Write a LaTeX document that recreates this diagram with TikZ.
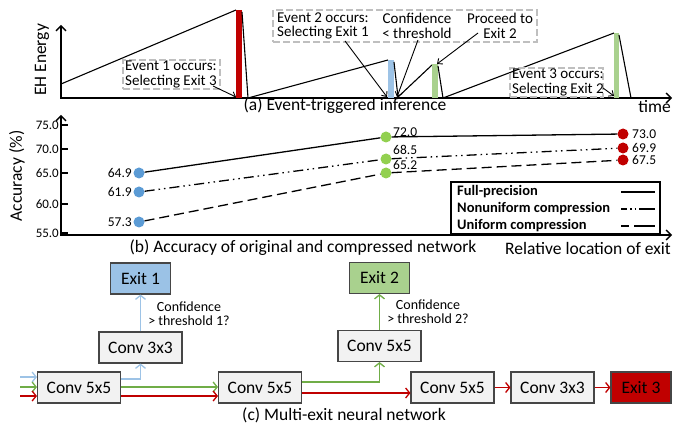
\documentclass[tikz,border=0pt]{standalone}
\usepackage{fontspec}
\setmainfont{Carlito}
\usetikzlibrary{arrows.meta}
\definecolor{barred}{RGB}{192,0,0}
\definecolor{barblue}{RGB}{157,195,230}
\definecolor{bargreen}{RGB}{169,209,142}
\definecolor{dotblue}{RGB}{91,155,213}
\definecolor{dotgreen}{RGB}{146,208,80}
\definecolor{dotred}{RGB}{192,0,0}
\definecolor{linblue}{RGB}{157,195,230}
\definecolor{lingreen}{RGB}{112,173,71}
\definecolor{linred}{RGB}{192,0,0}
\definecolor{boxgray}{RGB}{242,242,242}
\definecolor{boxedge}{RGB}{70,70,70}
\definecolor{dashgray}{RGB}{191,191,191}
\definecolor{exitblue}{RGB}{155,194,230}
\definecolor{exitgreen}{RGB}{169,209,142}
\begin{document}
\begin{tikzpicture}[x=1pt,y=-1pt,
  big/.style={font=\fontsize{17.5}{20}\selectfont, inner sep=0pt},
  ann/.style={font=\fontsize{15}{14.5}\selectfont, inner sep=0pt},
  small/.style={font=\fontsize{14}{14}\selectfont, inner sep=0pt, align=center},
  tick/.style={font=\fontsize{13}{14}\selectfont, inner sep=0pt},
  val/.style={font=\fontsize{13.5}{14}\selectfont, inner sep=0pt},
  legtext/.style={font=\bfseries\fontsize{14.5}{15}\selectfont, inner sep=0pt, anchor=west},
  axisline/.style={line width=1.4pt, {Straight Barb[length=5pt,width=10pt]}-{Straight Barb[length=5pt,width=10pt]}},
  energy/.style={line width=1.1pt},
  dashbox/.style={draw=dashgray, line width=1.4pt, dash pattern=on 7pt off 3pt},
  annarrow/.style={line width=0.9pt, -{Straight Barb[length=4pt,width=7pt]}},
  dotnode/.style={circle, minimum size=11pt, inner sep=0pt},
  netbox/.style={draw=boxedge, line width=1.1pt, fill=boxgray, minimum width=83pt, minimum height=31pt, big},
  exitbox/.style={draw=boxedge, line width=1.1pt, minimum width=60pt, minimum height=31pt, big},
  flow/.style={line width=1.3pt, -{Straight Barb[length=4pt,width=10pt]}},
  solidline/.style={line width=1.3pt},
  ddotline/.style={line width=1.3pt, dash pattern=on 10pt off 4pt on 1.5pt off 4pt on 1.5pt off 4pt},
  dashline/.style={line width=1.3pt, dash pattern=on 10pt off 5pt}
]
\useasboundingbox (0,0) rectangle (673,425);

% ---------------- (a) ----------------
\coordinate (ya) at (61,25);
\coordinate (oa) at (61,98);
\coordinate (xa) at (672,98);
\draw[axisline] (ya) -- (oa) -- (xa);
\node[big, rotate=90] (ehlabel) at (42,60) {EH Energy};
\node[big, anchor=east] (timelabel) at (671,107) {time};
\node[big] (capa) at (345,106) {(a) Event-triggered inference};

\draw[energy] (61,84) -- (236,10);
\fill[barred] (236,10) rectangle (242,98);
\draw[energy] (242,12) -- (248,98) -- (388,60);
\fill[barblue] (388,60) rectangle (394,98);
\draw[energy] (394,62) -- (398,97) -- (432,65);
\fill[bargreen] (432,64) rectangle (438,98);
\draw[energy] (438,66) -- (443,98) -- (614,33);
\fill[bargreen] (614,33) rectangle (619,98);
\draw[energy] (619,35) -- (631,98);

\node[dashbox, minimum width=97pt, minimum height=29pt] (ev1box) at (171.5,74.5) {};
\node[ann, anchor=west, align=left] (ev1) at (125,74.5) {Event 1 occurs:\\Selecting Exit 3};
\node[dashbox, minimum width=264pt, minimum height=32pt] (ev2box) at (405,26) {};
\node[ann, anchor=west, align=left] (ev2) at (277,26) {Event 2 occurs:\\Selecting Exit 1};
\node[ann, align=center] (conf) at (417,26) {Confidence\\< threshold};
\node[ann, align=center] (proc) at (500,26) {Proceed to\\Exit 2};
\node[dashbox, minimum width=93pt, minimum height=29pt] (ev3box) at (556.5,82.5) {};
\node[ann, anchor=west, align=left] (ev3) at (512,82.5) {Event 3 occurs:\\Selecting Exit 2};

\coordinate (e1s) at (213,86);  \coordinate (e1e) at (236,97);
\coordinate (e2s) at (345,41);  \coordinate (e2e) at (387,97);
\coordinate (e3s) at (418,40);  \coordinate (e3e) at (397,97);
\coordinate (e4s) at (478,33);  \coordinate (e4e) at (437,64);
\coordinate (e5s) at (603,88);  \coordinate (e5e) at (614,96);
\draw[annarrow] (e1s) -- (e1e);
\draw[annarrow] (e2s) -- (e2e);
\draw[annarrow] (e3s) -- (e3e);
\draw[annarrow] (e4s) -- (e4e);
\draw[annarrow] (e5s) -- (e5e);

% ---------------- (b) ----------------
\coordinate (yb) at (61,115);
\coordinate (ob) at (61,235);
\coordinate (xb) at (672,235);
\draw[axisline] (yb) -- (ob) -- (xb);
\foreach \yy/\tt in {125/75.0,149/70.0,173/65.0,204/60.0,233/55.0}{
  \draw[line width=1.2pt] (61,\yy) -- (68,\yy);
  \node[tick, anchor=east] at (59,\yy) {\tt};
}
\node[big, rotate=90] (acclabel) at (17,176) {Accuracy (\%)};
\node[big] (capb) at (303,248) {(b) Accuracy of original and compressed network};
\node[big, anchor=east] (rellabel) at (671,248) {Relative location of exit};

\node[dotnode, fill=dotblue] (b1) at (139,173) {};
\node[dotnode, fill=dotblue] (b2) at (139,192) {};
\node[dotnode, fill=dotblue] (b3) at (139,222) {};
\node[dotnode, fill=dotgreen] (g1) at (386,137) {};
\node[dotnode, fill=dotgreen] (g2) at (386,159) {};
\node[dotnode, fill=dotgreen] (g3) at (386,173) {};
\node[dotnode, fill=dotred] (r1) at (623,134) {};
\node[dotnode, fill=dotred] (r2) at (623,148) {};
\node[dotnode, fill=dotred] (r3) at (623,160) {};
\draw[solidline] (b1) -- (g1) -- (r1);
\draw[ddotline] (b2) -- (g2) -- (r2);
\draw[dashline] (b3) -- (g3) -- (r3);

\node[val, anchor=east] at (132,173) {64.9};
\node[val, anchor=east] at (132,192) {61.9};
\node[val, anchor=east] at (132,222) {57.3};
\node[val, anchor=west] at (393,132) {72.0};
\node[val, anchor=west] at (393,150) {68.5};
\node[val, anchor=west] at (393,165) {65.2};
\node[val, anchor=west] at (632,134) {73.0};
\node[val, anchor=west] at (632,148) {69.9};
\node[val, anchor=west] at (632,160) {67.5};

\node[draw, line width=1.5pt, fill=white, minimum width=209pt, minimum height=52pt, inner sep=0pt] (leg) at (555.5,208) {};
\node[legtext] (l1) at (457,192) {Full-precision};
\node[legtext] (l2) at (457,209) {Nonuniform compression};
\node[legtext] (l3) at (457,226) {Uniform compression};
\coordinate (l1a) at (621,192); \coordinate (l1b) at (655,192);
\coordinate (l2a) at (621,209); \coordinate (l2b) at (655,209);
\coordinate (l3a) at (621,226); \coordinate (l3b) at (655,226);
\draw[solidline] (l1a) -- (l1b);
\draw[line width=1.3pt, dash pattern=on 6pt off 3pt on 1.5pt off 3pt on 1.5pt off 3pt on 20pt] (l2a) -- (l2b);
\draw[line width=1.3pt, dash pattern=on 8pt off 5pt on 30pt] (l3a) -- (l3b);

% ---------------- (c) ----------------
\node[exitbox, fill=exitblue] (exit1) at (140.5,278.5) {Exit 1};
\node[netbox] (c33a) at (140.5,347.5) {Conv 3x3};
\node[netbox] (c55a) at (79,387.5) {Conv 5x5};
\node[netbox] (c55b) at (260,387.5) {Conv 5x5};
\node[netbox] (c55up) at (379.5,346) {Conv 5x5};
\node[exitbox, fill=exitgreen] (exit2) at (379.5,278) {Exit 2};
\node[netbox] (c55c) at (452.5,387.5) {Conv 5x5};
\node[netbox] (c33b) at (552.5,387.5) {Conv 3x3};
\node[exitbox, fill=barred] (exit3) at (641,387.5) {Exit 3};

\coordinate (inb) at (20,377);
\coordinate (ing) at (20,387);
\coordinate (inr) at (20,396);
\draw[flow, draw=linblue] (inb) -- (inb -| c55a.west);
\draw[flow, draw=lingreen] (ing) -- (ing -| c55a.west);
\draw[flow, draw=linred] (inr) -- (inr -| c55a.west);

\draw[flow, draw=linblue] (c55a.east |- 0,379) -| (c33a.south);
\draw[flow, draw=linblue] (c33a.north) -- (c33a.north |- exit1.south);
\draw[flow, draw=lingreen] (c55a.east |- 0,387) -- (c55b.west |- 0,387);
\draw[flow, draw=linred] (c55a.east |- 0,396) -- (c55b.west |- 0,396);

\draw[flow, draw=lingreen] (c55b.east |- 0,382) -| (c55up.south);
\draw[flow, draw=lingreen] (c55up.north) -- (c55up.north |- exit2.south);
\draw[flow, draw=linred] (c55b.east |- 0,393) -- (c55c.west |- 0,393);
\draw[flow, draw=linred] (c55c) -- (c33b);
\draw[flow, draw=linred] (c33b) -- (exit3);

\node[small] (th1) at (189,314) {Confidence\\> threshold 1?};
\node[small] (th2) at (428,312) {Confidence\\> threshold 2?};
\node[big] (capc) at (344,415) {(c) Multi-exit neural network};
\end{tikzpicture}
\end{document}
